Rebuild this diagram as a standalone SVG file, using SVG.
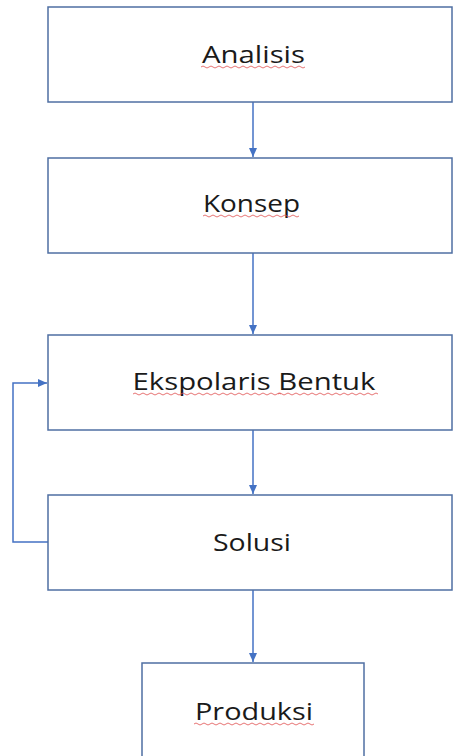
<svg xmlns="http://www.w3.org/2000/svg" width="453" height="756" viewBox="0 0 453 756">
<style>
.box{fill:#ffffff;stroke:#4f6fa3;stroke-width:1.5}
.lbl{font-family:"Open Sans","Noto Sans",sans-serif;font-size:23px;fill:#1a1a1a;text-anchor:middle}
.con{fill:none;stroke:#4472c4;stroke-width:1.5}
.sq{fill:none;stroke:#e05050;stroke-width:0.8}
</style>
<defs>
<marker id="ah" markerWidth="10" markerHeight="10" refX="9" refY="5" orient="auto" markerUnits="userSpaceOnUse">
<path d="M0,1 L9,5 L0,9 Z" fill="#4472c4"/>
</marker>
</defs>
<rect width="453" height="756" fill="#ffffff"/>
<g id="connectors">
<line class="con" x1="253" y1="102" x2="253" y2="157" marker-end="url(#ah)"/>
<line class="con" x1="253" y1="253" x2="253" y2="334" marker-end="url(#ah)"/>
<line class="con" x1="253" y1="430" x2="253" y2="494" marker-end="url(#ah)"/>
<line class="con" x1="253" y1="590" x2="253" y2="662" marker-end="url(#ah)"/>
<polyline class="con" points="48,542 13,542 13,383 47,383" marker-end="url(#ah)"/>
</g>
<g id="analisis">
<rect class="box" x="48" y="7" width="404" height="95"/>
<text class="lbl" x="253.5" y="63" textLength="103" lengthAdjust="spacingAndGlyphs">Analisis</text>
<path class="sq" d="M201,67 q2,-2 4,0 t4,0 t4,0 t4,0 t4,0 t4,0 t4,0 t4,0 t4,0 t4,0 t4,0 t4,0 t4,0 t4,0 t4,0 t4,0 t4,0 t4,0 t4,0 t4,0 t4,0 t4,0 t4,0 t4,0 t4,0 t4,0"/>
</g>
<g id="konsep">
<rect class="box" x="48" y="158" width="404" height="95"/>
<text class="lbl" x="251.5" y="212" textLength="97" lengthAdjust="spacingAndGlyphs">Konsep</text>
<path class="sq" d="M203,216 q2,-2 4,0 t4,0 t4,0 t4,0 t4,0 t4,0 t4,0 t4,0 t4,0 t4,0 t4,0 t4,0 t4,0 t4,0 t4,0 t4,0 t4,0 t4,0 t4,0 t4,0 t4,0 t4,0 t4,0 t4,0"/>
</g>
<g id="ekspolaris">
<rect class="box" x="48" y="335" width="404" height="95"/>
<text class="lbl" x="254" y="390" textLength="243" lengthAdjust="spacingAndGlyphs">Ekspolaris Bentuk</text>
<path class="sq" d="M133,394 q2,-2 4,0 t4,0 t4,0 t4,0 t4,0 t4,0 t4,0 t4,0 t4,0 t4,0 t4,0 t4,0 t4,0 t4,0 t4,0 t4,0 t4,0 t4,0 t4,0 t4,0 t4,0 t4,0 t4,0 t4,0 t4,0 t4,0 t4,0 t4,0 t4,0 t4,0 t4,0 t4,0 t4,0 t4,0 t4,0 t4,0 t4,0"/>
<path class="sq" d="M278,394 q2,-2 4,0 t4,0 t4,0 t4,0 t4,0 t4,0 t4,0 t4,0 t4,0 t4,0 t4,0 t4,0 t4,0 t4,0 t4,0 t4,0 t4,0 t4,0 t4,0 t4,0 t4,0 t4,0 t4,0 t4,0 t4,0"/>
</g>
<g id="solusi">
<rect class="box" x="48" y="495" width="404" height="95"/>
<text class="lbl" x="252" y="551" textLength="78" lengthAdjust="spacingAndGlyphs">Solusi</text>
</g>
<g id="produksi">
<rect class="box" x="142" y="663" width="222" height="100"/>
<text class="lbl" x="254" y="720" textLength="118" lengthAdjust="spacingAndGlyphs">Produksi</text>
<path class="sq" d="M194,724 q2,-2 4,0 t4,0 t4,0 t4,0 t4,0 t4,0 t4,0 t4,0 t4,0 t4,0 t4,0 t4,0 t4,0 t4,0 t4,0 t4,0 t4,0 t4,0 t4,0 t4,0 t4,0 t4,0 t4,0 t4,0 t4,0 t4,0 t4,0 t4,0 t4,0 t4,0"/>
</g>
</svg>
